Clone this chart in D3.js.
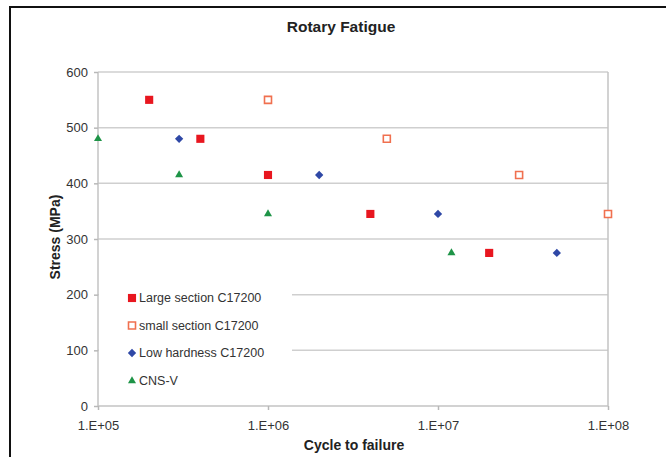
<!DOCTYPE html>
<html>
<head>
<meta charset="utf-8">
<script src="https://cdn.jsdelivr.net/npm/d3@7"></script>
<style>
  html, body { margin: 0; padding: 0; background: #fff; }
  svg { display: block; font-family: "Liberation Sans", Arial, sans-serif; }
  .axis path { display: none; }
  .axis line { stroke: #b8b8b8; stroke-width: 1.5; }
  .axis text { fill: #333; font-size: 13px; }
</style>
</head>
<body>
<div id="container"></div>
<script>
// series values: [cycles, stress MPa]
const largeSection = [[2e5, 550], [4e5, 480], [1e6, 415], [4e6, 345], [2e7, 275]];
const smallSection = [[1e6, 550], [5e6, 480], [3e7, 415], [1e8, 345]];
const lowHardness = [[3e5, 480], [2e6, 415], [1e7, 345], [5e7, 275]];
const cnsV = [[1e5, 480], [3e5, 415], [1e6, 345], [1.2e7, 275]];

const seriesNames = ["Large section C17200", "small section C17200", "Low hardness C17200", "CNS-V"];
const xTicks = [1e5, 1e6, 1e7, 1e8];
const xTickLabels = ["1.E+05", "1.E+06", "1.E+07", "1.E+08"];
const yTicks = [0, 100, 200, 300, 400, 500, 600];

const w = 666;
const h = 457;
const margin = { left: 98, right: 58, top: 72, bottom: 51 };

const svg = d3.select("#container").append("svg")
  .attr("width", w)
  .attr("height", h);

// outer frame
svg.append("rect")
  .attr("x", 10).attr("y", 7)
  .attr("width", w + 10).attr("height", h + 10)
  .attr("fill", "none")
  .attr("stroke", "#111")
  .attr("stroke-width", 2);

const xScale = d3.scaleLog()
  .domain([1e5, 1e8])
  .range([margin.left, w - margin.right]);

const yScale = d3.scaleLinear()
  .domain([0, 600])
  .range([h - margin.bottom, margin.top]);

// gridlines
svg.append("g")
  .selectAll("line")
  .data(yTicks.slice(1))
  .enter().append("line")
  .attr("x1", margin.left)
  .attr("x2", w - margin.right)
  .attr("y1", d => yScale(d))
  .attr("y2", d => yScale(d))
  .attr("stroke", "#cfcfcf")
  .attr("stroke-width", 1.5);

// plot frame (left, bottom, right)
svg.append("path")
  .attr("d", `M${margin.left},${margin.top}V${h - margin.bottom}H${w - margin.right}V${margin.top}`)
  .attr("fill", "none")
  .attr("stroke", "#c4c4c4")
  .attr("stroke-width", 1.5);

const xAxis = d3.axisBottom(xScale)
  .tickValues(xTicks)
  .tickFormat((d, i) => xTickLabels[i])
  .tickSize(4)
  .tickPadding(11);

const yAxis = d3.axisLeft(yScale)
  .tickValues(yTicks)
  .tickSize(4)
  .tickPadding(6);

svg.append("g")
  .attr("class", "axis")
  .attr("transform", `translate(0, ${h - margin.bottom})`)
  .call(xAxis);

svg.append("g")
  .attr("class", "axis")
  .attr("transform", `translate(${margin.left}, 0)`)
  .call(yAxis);

// legend background hides gridlines behind it
const legendY = [298, 325.5, 353, 381];
svg.append("rect")
  .attr("x", margin.left + 1)
  .attr("y", 283)
  .attr("width", 193)
  .attr("height", 112)
  .attr("fill", "#fff");

// markers
const sym = {
  square: d3.symbol().type(d3.symbolSquare).size(66),
  openSquare: d3.symbol().type(d3.symbolSquare).size(49),
  diamond: d3.symbol().type(d3.symbolDiamond2).size(44),
  triangle: d3.symbol().type(d3.symbolTriangle2).size(46)
};

const series = [
  { data: largeSection, path: sym.square(), fill: "#e8161f", stroke: "none", sw: 0 },
  { data: smallSection, path: sym.openSquare(), fill: "#fff", stroke: "#f0704f", sw: 1.6 },
  { data: lowHardness, path: sym.diamond(), fill: "#2f48a6", stroke: "none", sw: 0 },
  { data: cnsV, path: sym.triangle(), fill: "#1e9447", stroke: "none", sw: 0 }
];

series.forEach(s => {
  svg.append("g")
    .selectAll("path")
    .data(s.data)
    .enter().append("path")
    .attr("d", s.path)
    .attr("transform", d => `translate(${xScale(d[0])},${yScale(d[1])})`)
    .attr("fill", s.fill)
    .attr("stroke", s.stroke)
    .attr("stroke-width", s.sw);
});

// legend
const legend = svg.append("g")
  .selectAll("g")
  .data(series)
  .enter().append("g")
  .attr("transform", (d, i) => `translate(132, ${legendY[i]})`);

legend.append("path")
  .attr("d", d => d.path)
  .attr("fill", d => d.fill)
  .attr("stroke", d => d.stroke)
  .attr("stroke-width", d => d.sw);

legend.append("text")
  .attr("x", 7)
  .attr("dy", "0.35em")
  .attr("font-size", 12.5)
  .attr("fill", "#333")
  .text((d, i) => seriesNames[i]);

// titles
svg.append("text")
  .attr("x", 341)
  .attr("y", 32)
  .attr("text-anchor", "middle")
  .attr("font-size", 15.5)
  .attr("font-weight", "bold")
  .attr("fill", "#222")
  .text("Rotary Fatigue");

svg.append("text")
  .attr("x", 354)
  .attr("y", 450)
  .attr("text-anchor", "middle")
  .attr("font-size", 14)
  .attr("font-weight", "bold")
  .attr("fill", "#222")
  .text("Cycle to failure");

svg.append("text")
  .attr("transform", `translate(60, 237) rotate(-90)`)
  .attr("text-anchor", "middle")
  .attr("font-size", 14)
  .attr("font-weight", "bold")
  .attr("fill", "#222")
  .text("Stress (MPa)");
</script>
</body>
</html>
